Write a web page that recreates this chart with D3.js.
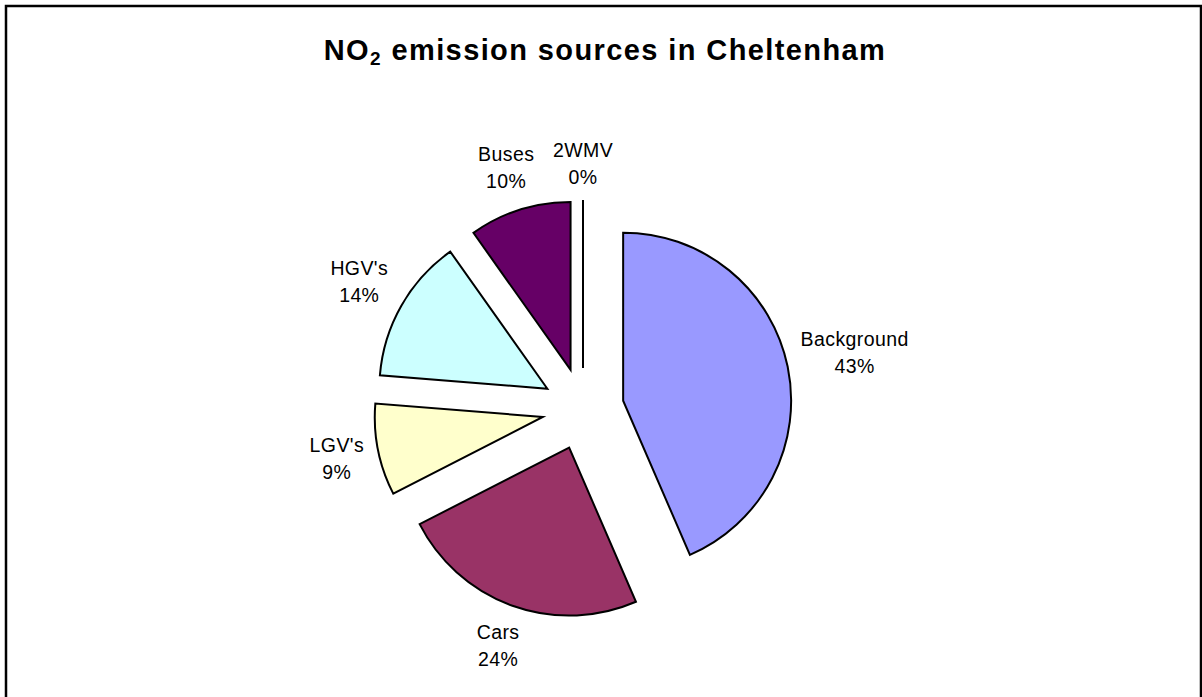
<!DOCTYPE html>
<html><head><meta charset="utf-8">
<script src="https://cdn.jsdelivr.net/npm/d3@7"></script>
<style>body{margin:0;background:#fff;} svg{display:block;}</style>
</head><body><svg id="chart" width="1202" height="697"></svg>
<script>
const categories = ["Background", "Cars", "LGV's", "HGV's", "Buses", "2WMV"];
const values = [43.45, 23.95, 8.8, 13.9, 9.8, 0];
const colors = ["#9999FF", "#993366", "#FFFFCC", "#CCFFFF", "#660066", "#FF8080"];
const titleParts = ["NO", "2", " emission sources in Cheltenham"];

const svg = d3.select("#chart");
const font = "'Liberation Sans', Arial, Helvetica, sans-serif";

// frame
svg.append("rect").attr("x", 6).attr("y", 6).attr("width", 1195).attr("height", 700)
  .attr("fill", "#fff").attr("stroke", "#000").attr("stroke-width", 2.5);

// title
const title = svg.append("text").attr("x", 605).attr("y", 60)
  .attr("text-anchor", "middle").attr("font-family", font)
  .attr("font-size", 29).attr("font-weight", "bold").attr("fill", "#000")
  .style("letter-spacing", "1.4px");
title.append("tspan").text(titleParts[0]);
title.append("tspan").attr("font-size", 19).attr("dy", 5).text(titleParts[1]);
title.append("tspan").attr("dy", -5).text(titleParts[2]);

// pie
const cx = 583, cy = 409, radius = 168, explode = 41;
const total = d3.sum(values);
const pieData = d3.pie().sort(null).value(d => d)(values);
const arc = d3.arc().innerRadius(0).outerRadius(radius);
const g = svg.append("g").attr("transform", `translate(${cx},${cy})`);

g.selectAll("path").data(pieData).join("path")
  .attr("transform", d => {
    const a = (d.startAngle + d.endAngle) / 2;
    return `translate(${explode * Math.sin(a)},${-explode * Math.cos(a)})`;
  })
  .attr("d", arc)
  .attr("fill", (d, i) => colors[i])
  .attr("stroke", "#000").attr("stroke-width", 2)
  .attr("stroke-linejoin", "miter");

// labels
const lineGap = 27;
pieData.forEach((d, i) => {
  const a = (d.startAngle + d.endAngle) / 2;
  const t = g.append("text").attr("text-anchor", "middle")
    .attr("font-family", font).attr("font-size", 19.5).attr("fill", "#000")
    .style("letter-spacing", "0.4px");
  const l1 = t.append("tspan").attr("x", 0).attr("y", 0).text(categories[i]);
  const l2 = t.append("tspan").attr("x", 0).attr("y", lineGap)
    .text(Math.round(d.value / total * 100) + "%");
  const w = Math.max(l1.node().getComputedTextLength(), l2.node().getComputedTextLength());
  const ext = Math.abs(Math.sin(a)) * w / 2 + Math.abs(Math.cos(a)) * lineGap;
  const R = radius + explode + 10 + ext;
  const lx = R * Math.sin(a), ly = -R * Math.cos(a);
  t.attr("transform", `translate(${lx},${ly - 6.5})`);
});
</script>
</body></html>
